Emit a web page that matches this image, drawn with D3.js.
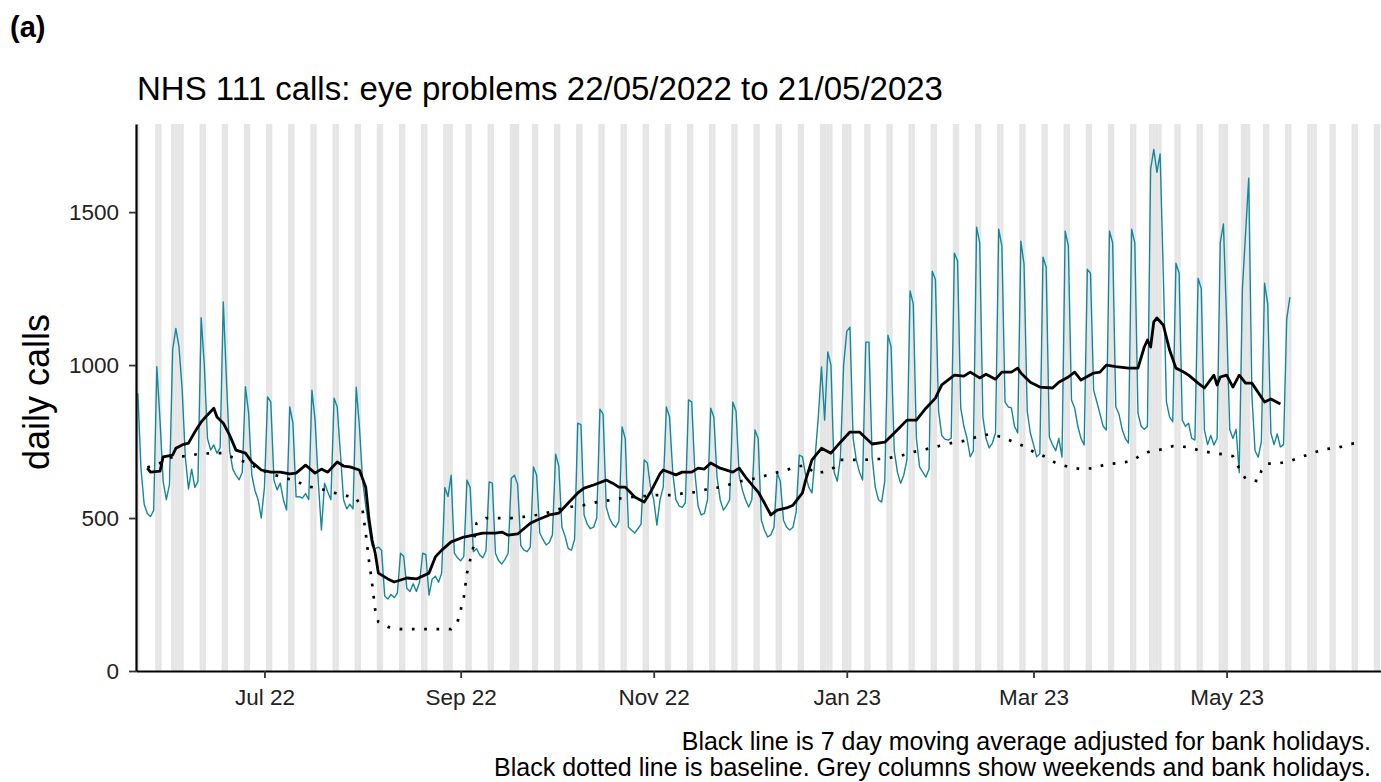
<!DOCTYPE html>
<html><head><meta charset="utf-8">
<script src="https://cdn.jsdelivr.net/npm/d3@7"></script>
<style>
body{margin:0;background:#fff}
svg{display:block}
text{font-family:"Liberation Sans",Arial,Helvetica,sans-serif}
</style>
</head><body>
<svg id="chart" width="1381" height="782"></svg>
<script>
// ---------------- data ----------------
const startDate = "2022-05-22";   // first day of daily series
// daily NHS 111 calls (one value per day, 22/05/2022 .. 21/05/2023)
const dailyCalls = [
 908, 660, 545, 515, 505, 525, 995,
 820, 620, 560, 610, 1050, 1120, 1060,
 920, 700, 595, 660, 600, 620, 1155,
 1000, 760, 722, 739, 712, 730, 1206,
 950, 720, 660, 640, 625, 650, 929,
 843, 640, 590, 560, 500, 600, 896,
 880, 624, 592, 614, 559, 526, 863,
 810, 569, 570, 565, 580, 560, 918,
 820, 620, 461, 614, 585, 560, 892,
 863, 712, 560, 530, 545, 530, 928,
 800, 624, 540, 470, 410, 400, 405,
 395, 245, 235, 250, 240, 255, 385,
 375, 270, 260, 285, 260, 290, 385,
 380, 248, 300, 310, 290, 320, 600,
 570, 640, 385, 370, 360, 375, 624,
 600, 390, 400, 380, 370, 392, 618,
 614, 385, 360, 350, 365, 385, 630,
 640, 610, 410, 395, 390, 405, 667,
 640, 451, 430, 412, 420, 445, 709,
 670, 470, 440, 400, 395, 430, 810,
 805, 510, 480, 465, 470, 500, 856,
 840, 536, 500, 480, 470, 490, 798,
 760, 470, 460, 451, 465, 480, 690,
 680, 600, 560, 477, 560, 600, 863,
 830, 650, 560, 540, 535, 550, 886,
 880, 650, 540, 510, 515, 560, 859,
 830, 634, 560, 526, 540, 560, 879,
 850, 640, 592, 560, 536, 560, 788,
 760, 493, 460, 438, 445, 470, 647,
 620, 493, 470, 461, 470, 520, 706,
 700, 640, 600, 582, 700, 830, 994,
 820, 1043, 1000, 650, 620, 700, 1000,
 1110, 1124, 760, 690, 650, 624, 1075,
 1075, 700, 600, 560, 552, 620, 1098,
 1060, 720, 650, 614, 640, 690, 1242,
 1200, 760, 667, 650, 634, 660, 1307,
 1280, 850, 770, 758, 755, 761, 1366,
 1340, 860, 800, 760, 700, 720, 1451,
 1400, 830, 760, 729, 745, 778, 1444,
 1390, 880, 863, 860, 800, 778, 1405,
 1330, 850, 778, 740, 700, 710, 1353,
 1320, 765, 740, 720, 760, 699, 1438,
 1390, 886, 860, 800, 760, 739, 1313,
 1300, 918, 880, 840, 800, 788, 1438,
 1400, 863, 840, 790, 760, 745, 1444,
 1400, 843, 800, 790, 800, 1640, 1705,
 1630, 1690, 1300, 880, 830, 815, 1333,
 1300, 820, 800, 810, 760, 755, 1284,
 1250, 788, 740, 770, 739, 760, 1400,
 1461, 1150, 790, 760, 790, 648, 1250,
 1430, 1611, 900, 720, 699, 750, 1268,
 1200, 778, 740, 775, 732, 740, 1150,
 1222
];
// 7 day moving average (day offset from startDate, value)
const maDay = [3,4,7,8,11,12,14,16,18,20,22,24,25,27,29,31,34,36,39,42,45,48,50,53,56,58,60,63,65,67,70,72,73,74,75,76,79,81,85,88,92,94,96,99,103,106,109,113,115,117,120,124,126,130,133,136,139,141,144,148,150,152,154,157,160,162,165,166,170,172,175,177,179,181,184,188,190,192,196,198,200,202,205,207,210,211,213,216,219,222,225,228,232,236,239,243,246,249,252,254,258,261,263,266,268,271,273,276,278,279,282,285,289,291,294,296,298,302,304,306,309,313,316,318,319,320,321,322,324,326,328,330,332,335,337,340,341,342,344,346,348,350,352,356,358,361];
const maValue = [663,650,653,700,706,728,739,745,781,814,837,859,830,810,771,722,712,683,657,650,650,644,647,673,647,660,650,683,670,667,657,601,500,428,385,320,301,291,304,301,320,373,395,422,438,444,451,451,454,444,448,483,493,510,516,549,582,598,608,624,614,601,601,569,552,585,645,657,641,650,650,663,660,680,663,650,663,634,585,549,510,526,533,542,582,624,690,728,712,748,781,781,742,748,778,820,820,859,892,935,967,964,977,958,970,954,977,977,990,974,944,928,925,944,961,977,951,974,977,1000,995,990,990,1059,1082,1059,1141,1154,1131,1049,990,980,967,941,925,967,935,961,967,928,967,941,941,879,889,873];
// baseline (day offset from startDate, value)
const baseDay = [3,7,11,15,19,23,27,31,35,38,42,46,50,53,57,61,65,69,71,72,73,74,75,76,79,83,90,99,101,102,103,104,105,106,107,110,114,118,122,126,130,134,137,141,145,149,153,157,164,169,173,177,180,185,188,192,196,200,204,208,211,214,217,220,222,226,229,234,237,241,245,249,253,257,261,265,269,273,276,280,283,287,290,294,298,302,306,310,314,317,320,324,327,332,335,340,343,346,348,350,354,355,357,360,364,368,371,375,379,383,387];
const baseValue = [665,680,700,702,709,712,712,693,680,660,645,632,622,604,598,585,575,565,526,451,363,288,199,160,144,137,137,137,160,199,242,320,363,405,483,500,500,500,504,510,519,532,537,542,552,558,565,569,575,575,582,585,595,602,614,624,631,644,654,667,673,645,652,665,690,690,690,693,696,703,716,725,735,745,752,765,774,765,752,735,716,699,680,667,660,663,676,680,686,706,719,725,735,732,722,712,708,702,662,628,620,655,678,678,686,701,712,725,729,742,748];
const greyStart = "2022-05-21", greyEnd = "2023-06-18";
const bankHolidays = ["2022-06-02","2022-06-03","2022-08-29","2022-09-19","2022-12-26","2022-12-27","2023-01-02","2023-04-07","2023-04-10","2023-05-01","2023-05-08","2023-05-29"];
const xTickDates = ["2022-07-01","2022-09-01","2022-11-01","2023-01-01","2023-03-01","2023-05-01"];
const yTicks = [0, 500, 1000, 1500];
const panelLabel = "(a)";
const titleText = "NHS 111 calls: eye problems 22/05/2022 to 21/05/2023";
const yTitle = "daily calls";
const captionLines = ["Black line is 7 day moving average adjusted for bank holidays.",
  "Black dotted line is baseline. Grey columns show weekends and bank holidays."];

// ---------------- drawing ----------------
const parse = d3.utcParse("%Y-%m-%d");
const fmt = d3.utcFormat("%Y-%m-%d");
const t0 = parse(startDate);
const dayDate = i => d3.utcDay.offset(t0, i);
const P = {left: 136, right: 1381, top: 124, bottom: 671};

const x = d3.scaleUtc()
  .domain([d3.utcHour.offset(t0, -14), d3.utcHour.offset(t0, 9427)])
  .range([P.left, P.right]);
const y = d3.scaleLinear().domain([0, 1788]).range([P.bottom, P.top]);

const svg = d3.select("#chart");
svg.append("defs").append("clipPath").attr("id", "clip")
  .append("rect").attr("x", P.left).attr("y", 0).attr("width", P.right - P.left).attr("height", P.bottom);

const plot = svg.append("g").attr("clip-path", "url(#clip)");

// grey columns
const hol = new Set(bankHolidays);
const greyDays = d3.utcDays(parse(greyStart), d3.utcDay.offset(parse(greyEnd), 1))
  .filter(d => d.getUTCDay() === 0 || d.getUTCDay() === 6 || hol.has(fmt(d)));
plot.append("g").selectAll("rect").data(greyDays).join("rect")
  .attr("x", d => x(d3.utcHour.offset(d, -12)))
  .attr("width", d => x(d3.utcHour.offset(d, 12)) - x(d3.utcHour.offset(d, -12)))
  .attr("y", P.top).attr("height", P.bottom - P.top)
  .attr("fill", "#e5e5e5");

// daily calls
plot.append("path")
  .datum(dailyCalls)
  .attr("fill", "none").attr("stroke", "#15879a").attr("stroke-width", 1.4)
  .attr("stroke-linejoin", "round")
  .attr("d", d3.line().x((d, i) => x(dayDate(i))).y(d => y(d)));

// moving average
plot.append("path")
  .datum(maDay.map((d, i) => [d, maValue[i]]))
  .attr("fill", "none").attr("stroke", "#000").attr("stroke-width", 2.8)
  .attr("stroke-linejoin", "round")
  .attr("d", d3.line().x(d => x(dayDate(d[0]))).y(d => y(d[1])));

// baseline
plot.append("path")
  .datum(baseDay.map((d, i) => [d, baseValue[i]]))
  .attr("fill", "none").attr("stroke", "#000").attr("stroke-width", 2.7)
  .attr("stroke-dasharray", "2.7,9.6")
  .attr("d", d3.line().x(d => x(dayDate(d[0]))).y(d => y(d[1])));

// axes
const xAxis = svg.append("g").attr("transform", `translate(0,${P.bottom})`)
  .call(d3.axisBottom(x).tickValues(xTickDates.map(parse)).tickFormat(d3.utcFormat("%b %y"))
    .tickSize(7).tickSizeOuter(0).tickPadding(11));
const yAxis = svg.append("g").attr("transform", `translate(${P.left},0)`)
  .call(d3.axisLeft(y).tickValues(yTicks).tickFormat(d3.format("d"))
    .tickSize(7).tickSizeOuter(0).tickPadding(10));
[xAxis, yAxis].forEach(g => {
  g.select(".domain").attr("stroke", "#000").attr("stroke-width", 2.2);
  g.selectAll(".tick line").attr("stroke", "#333").attr("stroke-width", 1.8);
  g.selectAll(".tick text").attr("fill", "#222").attr("font-size", 22.5)
    .attr("font-family", "Liberation Sans, Arial, sans-serif");
});

// texts
svg.append("text").attr("x", 10).attr("y", 37).attr("font-size", 29).attr("font-weight", "bold")
  .text(panelLabel);
svg.append("text").attr("x", 137).attr("y", 100).attr("font-size", 33).attr("fill", "#000")
  .text(titleText);
svg.append("text").attr("transform", "translate(49,392) rotate(-90)")
  .attr("text-anchor", "middle").attr("font-size", 36).text(yTitle);
svg.append("g").selectAll("text").data(captionLines).join("text")
  .attr("x", 1371).attr("y", (d, i) => 750 + i * 26)
  .attr("text-anchor", "end").attr("font-size", 25).text(d => d);
</script>
</body></html>
